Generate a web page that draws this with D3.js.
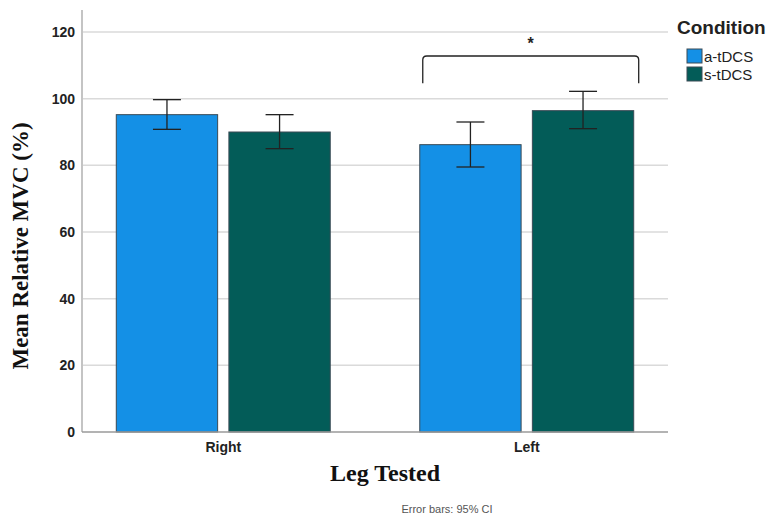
<!DOCTYPE html>
<html>
<head>
<meta charset="utf-8">
<script src="https://cdn.jsdelivr.net/npm/d3@7"></script>
<style>
  body { margin: 0; background: #fff; }
  svg { display: block; }
</style>
</head>
<body>
<div id="chart"></div>
<script>
const width = 771;
const height = 516;

// data
const legs = ["Right", "Left"];
const conditions = ["a-tDCS", "s-tDCS"];
const means = [[95.2, 90.0], [86.2, 96.4]];
const ciLow = [[90.8, 85.0], [79.5, 91.0]];
const ciHigh = [[99.7, 95.2], [93.0, 102.2]];
const yTicks = [0, 20, 40, 60, 80, 100, 120];
const colors = ["#1490e6", "#035c58"];

const plot = {left: 82, right: 668, top: 10, bottom: 432};

const svg = d3.select("#chart").append("svg")
    .attr("width", width)
    .attr("height", height);

const y = d3.scaleLinear()
    .domain([0, 126.6])
    .range([plot.bottom, plot.top]);

const x0 = d3.scaleBand()
    .domain(legs)
    .range([plot.left, plot.right])
    .paddingInner(0.295)
    .paddingOuter(0.113);

const x1 = d3.scaleBand()
    .domain(conditions)
    .range([0, x0.bandwidth()])
    .paddingInner(0.1);

// grid lines
svg.append("g")
    .selectAll("line")
    .data(yTicks.filter(d => d > 0))
    .join("line")
    .attr("x1", plot.left)
    .attr("x2", plot.right)
    .attr("y1", d => y(d))
    .attr("y2", d => y(d))
    .attr("stroke", "#dadada")
    .attr("stroke-width", 1.5);

// y axis
const yAxis = svg.append("g")
    .attr("transform", `translate(${plot.left},0)`)
    .call(d3.axisLeft(y).tickValues(yTicks).tickSize(0).tickPadding(7));
yAxis.select(".domain").remove();
yAxis.selectAll("text")
    .style("font-family", "'Liberation Sans', Arial, sans-serif")
    .style("font-size", "14px")
    .style("font-weight", "bold")
    .style("fill", "#222");

svg.append("line")
    .attr("x1", plot.left).attr("x2", plot.left)
    .attr("y1", plot.top).attr("y2", plot.bottom)
    .attr("stroke", "#c4c4c4")
    .attr("stroke-width", 2);

// bars
const groups = svg.append("g")
    .selectAll("g")
    .data(legs)
    .join("g")
    .attr("transform", d => `translate(${x0(d)},0)`);

groups.selectAll("rect")
    .data((d, i) => conditions.map((c, j) => ({c, v: means[i][j], j})))
    .join("rect")
    .attr("x", d => x1(d.c))
    .attr("y", d => y(d.v))
    .attr("width", x1.bandwidth())
    .attr("height", d => y(0) - y(d.v))
    .attr("fill", d => colors[d.j])
    .attr("stroke", "#3a4a55")
    .attr("stroke-width", 1);

// x axis line
svg.append("line")
    .attr("x1", plot.left).attr("x2", plot.right)
    .attr("y1", plot.bottom).attr("y2", plot.bottom)
    .attr("stroke", "#9a9a9a")
    .attr("stroke-width", 1.5);

// error bars
const capW = 14;
const err = groups.selectAll("g.err")
    .data((d, i) => conditions.map((c, j) => ({c, lo: ciLow[i][j], hi: ciHigh[i][j]})))
    .join("g")
    .attr("class", "err")
    .attr("stroke", "#222")
    .attr("stroke-width", 1.3);
err.append("line")
    .attr("x1", d => x1(d.c) + x1.bandwidth() / 2)
    .attr("x2", d => x1(d.c) + x1.bandwidth() / 2)
    .attr("y1", d => y(d.hi))
    .attr("y2", d => y(d.lo));
err.append("line")
    .attr("x1", d => x1(d.c) + x1.bandwidth() / 2 - capW)
    .attr("x2", d => x1(d.c) + x1.bandwidth() / 2 + capW)
    .attr("y1", d => y(d.hi))
    .attr("y2", d => y(d.hi));
err.append("line")
    .attr("x1", d => x1(d.c) + x1.bandwidth() / 2 - capW)
    .attr("x2", d => x1(d.c) + x1.bandwidth() / 2 + capW)
    .attr("y1", d => y(d.lo))
    .attr("y2", d => y(d.lo));

// x tick labels
svg.append("g")
    .selectAll("text")
    .data(legs)
    .join("text")
    .attr("x", d => x0(d) + x0.bandwidth() / 2)
    .attr("y", 451.5)
    .attr("text-anchor", "middle")
    .style("font-family", "'Liberation Sans', Arial, sans-serif")
    .style("font-size", "14px")
    .style("font-weight", "bold")
    .style("fill", "#222")
    .text(d => d);

// significance bracket over Left
const bx1 = x0("Left") + 3;
const bx2 = x0("Left") + x0.bandwidth() + 5;
const bTop = y(112.8);
const bBot = y(104.6);
const r = 4;
svg.append("path")
    .attr("d", `M${bx1},${bBot} L${bx1},${bTop + r} Q${bx1},${bTop} ${bx1 + r},${bTop} L${bx2 - r},${bTop} Q${bx2},${bTop} ${bx2},${bTop + r} L${bx2},${bBot}`)
    .attr("fill", "none")
    .attr("stroke", "#222")
    .attr("stroke-width", 1.3);
svg.append("text")
    .attr("x", (bx1 + bx2) / 2)
    .attr("y", 49)
    .attr("text-anchor", "middle")
    .style("font-family", "'Liberation Sans', Arial, sans-serif")
    .style("font-size", "16px")
    .style("font-weight", "bold")
    .style("fill", "#222")
    .text("*");

// axis titles
svg.append("text")
    .attr("transform", `translate(28,246) rotate(-90)`)
    .attr("text-anchor", "middle")
    .style("font-family", "'Liberation Serif', 'Times New Roman', serif")
    .style("font-size", "23px")
    .style("font-weight", "bold")
    .style("fill", "#111")
    .text("Mean Relative MVC (%)");

svg.append("text")
    .attr("x", 385)
    .attr("y", 481)
    .attr("text-anchor", "middle")
    .style("font-family", "'Liberation Serif', 'Times New Roman', serif")
    .style("font-size", "24px")
    .style("font-weight", "bold")
    .style("fill", "#111")
    .text("Leg Tested");

svg.append("text")
    .attr("x", 447)
    .attr("y", 513)
    .attr("text-anchor", "middle")
    .style("font-family", "'Liberation Sans', Arial, sans-serif")
    .style("font-size", "11px")
    .style("fill", "#555")
    .text("Error bars: 95% CI");

// legend
svg.append("text")
    .attr("x", 677)
    .attr("y", 34)
    .style("font-family", "'Liberation Sans', Arial, sans-serif")
    .style("font-size", "19px")
    .style("font-weight", "bold")
    .style("fill", "#222")
    .text("Condition");

const legend = svg.append("g")
    .selectAll("g")
    .data(conditions)
    .join("g")
    .attr("transform", (d, i) => `translate(687,${49 + i * 18})`);
legend.append("rect")
    .attr("width", 15)
    .attr("height", 14)
    .attr("fill", (d, i) => colors[i])
    .attr("stroke", "#3a4a55")
    .attr("stroke-width", 1);
legend.append("text")
    .attr("x", 17)
    .attr("y", 12.5)
    .style("font-family", "'Liberation Sans', Arial, sans-serif")
    .style("font-size", "15px")
    .style("fill", "#222")
    .text(d => d);
</script>
</body>
</html>
